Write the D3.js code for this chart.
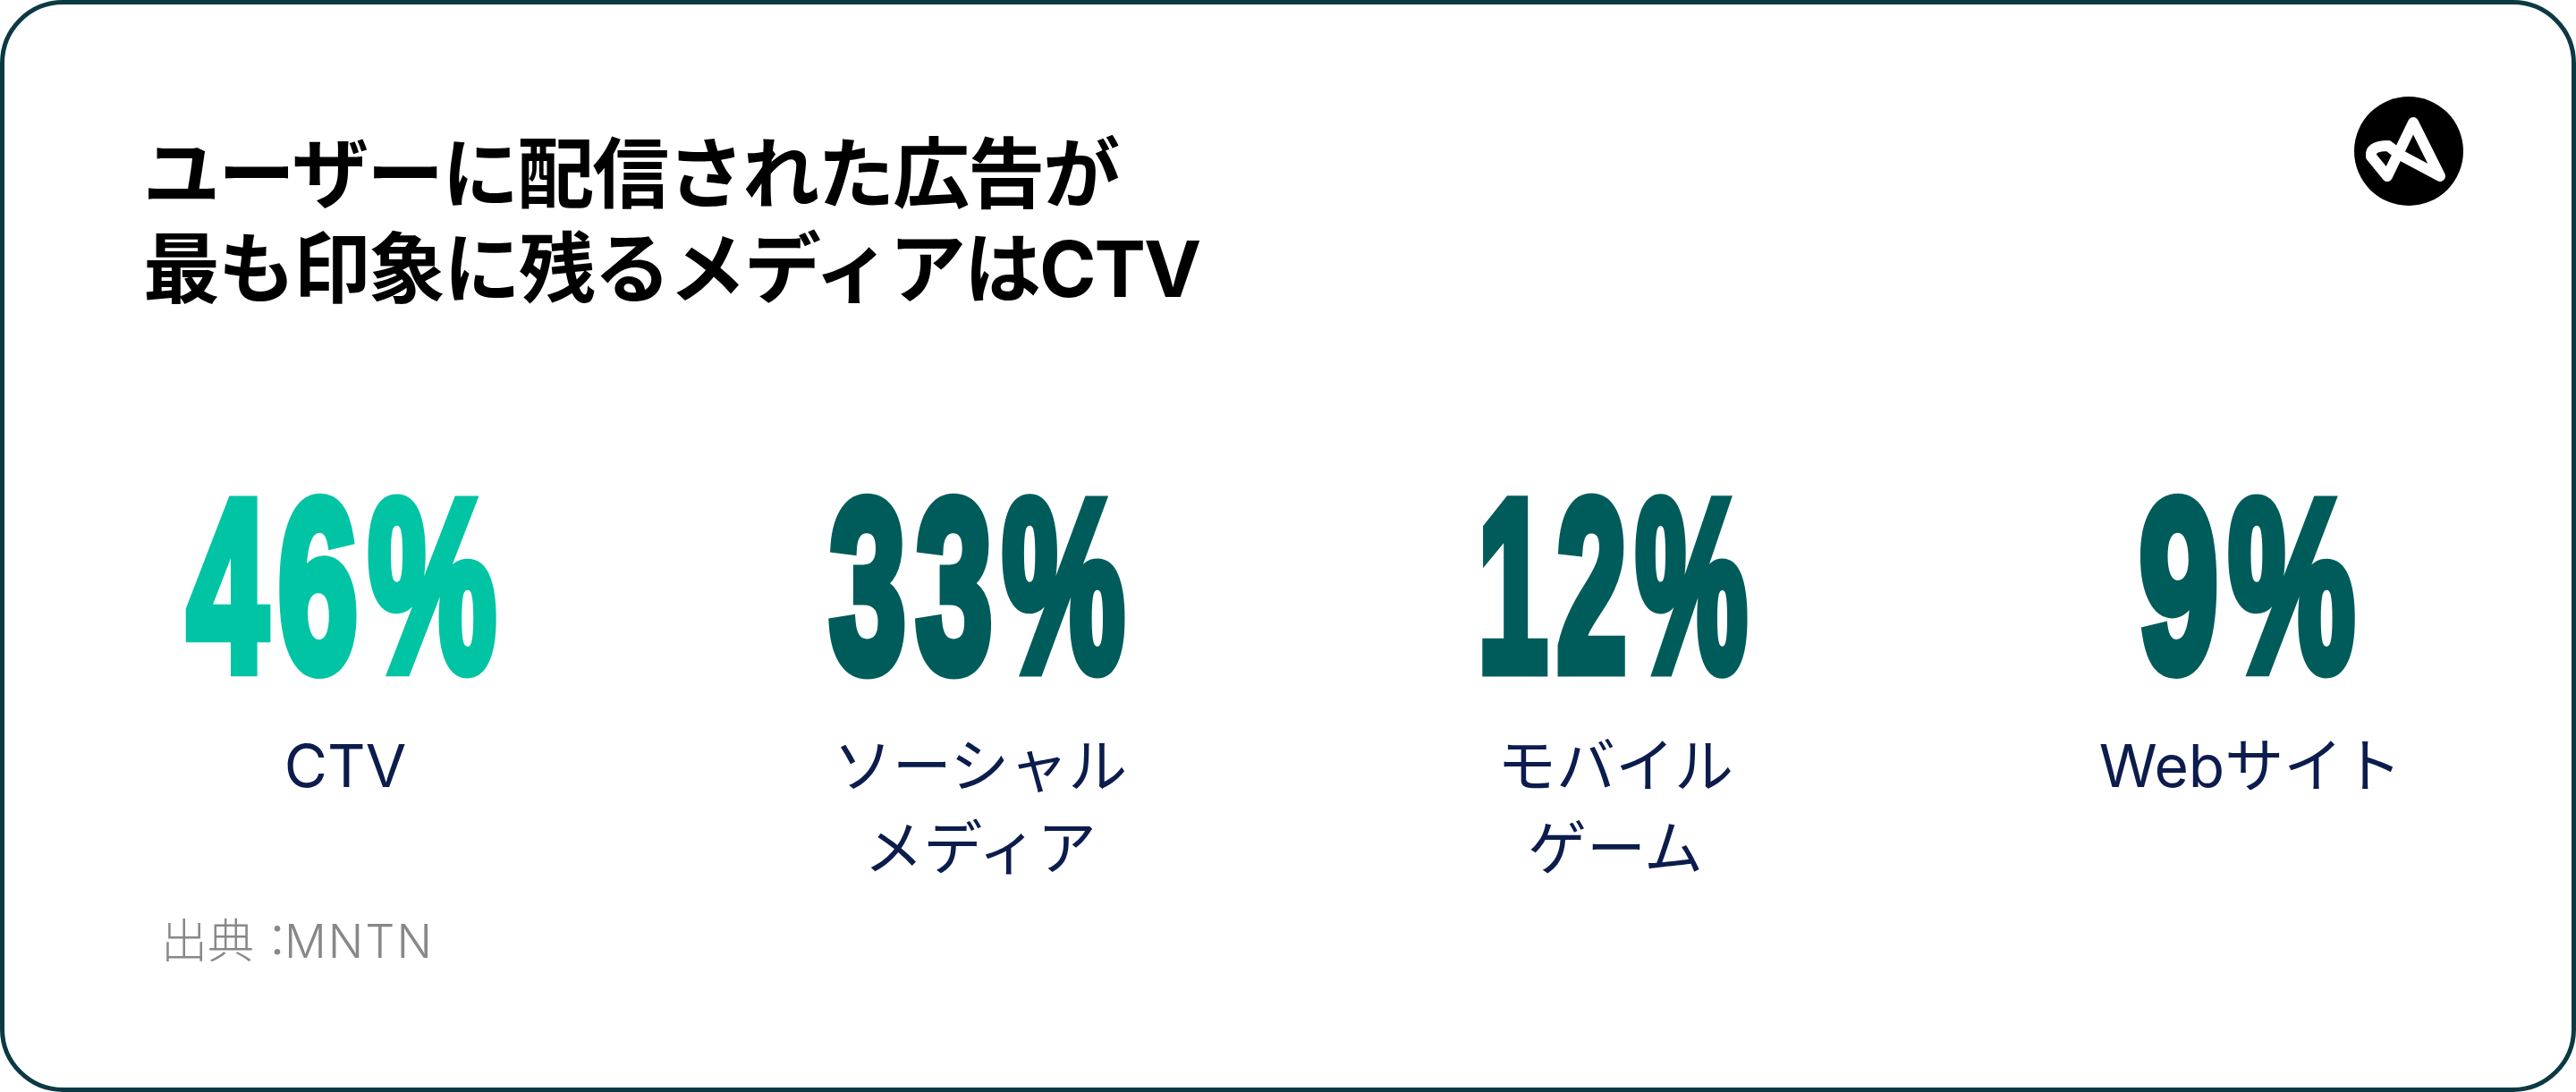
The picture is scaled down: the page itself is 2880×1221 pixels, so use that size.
<!DOCTYPE html>
<html lang="ja">
<head>
<meta charset="utf-8">
<style>
  html, body { margin: 0; padding: 0; background: #fff; }
  svg { display: block; }
  text { font-family: Inter, "Noto Sans CJK JP", sans-serif; }
</style>
<script src="https://cdn.jsdelivr.net/npm/d3@7"></script>
</head>
<body>
<svg id="chart"></svg>
<script>
var titleLines = ["ユーザーに配信された広告が", "最も印象に残るメディアはCTV"];
var categories = ["CTV", "ソーシャルメディア", "モバイルゲーム", "Webサイト"];
var categoryLines = [["CTV"], ["ソーシャル", "メディア"], ["モバイル", "ゲーム"], ["Webサイト"]];
var values = [46, 33, 12, 9];
var figureWidths = [345, 330, 301, 241];
var sourceWord = "出典";
var sourceColon = "：";
var sourceName = "MNTN";

var W = 2880, H = 1221;
var svg = d3.select("#chart").attr("width", W).attr("height", H);

// Card border
svg.append("rect")
  .attr("x", 2.5).attr("y", 2.5)
  .attr("width", W - 5).attr("height", H - 5)
  .attr("rx", 68)
  .attr("fill", "#fff").attr("stroke", "#0b3a44").attr("stroke-width", 5);

// Title
svg.selectAll(".title").data(titleLines).enter().append("text")
  .attr("class", "title")
  .attr("x", 160)
  .attr("y", function(d, i) { return 226 + i * 106; })
  .style("font-size", "86px")
  .style("letter-spacing", "-2px")
  .style("font-weight", 700)
  .attr("fill", "#000")
  .text(function(d) { return d; });

// Logo
var logo = svg.append("g").attr("transform", "translate(2693,169)");
logo.append("circle").attr("r", 61).attr("fill", "#000");
logo.append("path")
  .attr("d", "M-23,-6 L-10,4 L35,28 L5,-32 L-24,28 L-42,6 Q-44,-6 -23,-6 Z")
  .attr("fill", "none").attr("stroke", "#fff")
  .attr("stroke-width", 12).attr("stroke-linejoin", "round");

var x = d3.scalePoint().domain(categories).range([386, 2516]);
var color = d3.scaleOrdinal().domain(categories)
  .range(["#00c4a4", "#005c5b", "#005c5b", "#005c5b"]);

var figureGap = 20, figureStroke = 12;

categories.forEach(function(c, i) {
  // Big figures: no ultra condensed face is installed, so squeeze a narrow one
  var t = svg.append("text")
    .attr("text-anchor", "middle")
    .style("font-family", "'Liberation Sans Narrow', sans-serif")
    .style("font-size", "272px")
    .style("font-weight", 700)
    .style("letter-spacing", figureGap + "px")
    .attr("fill", color(c))
    .attr("stroke", color(c))
    .attr("stroke-width", figureStroke)
    .style("vector-effect", "non-scaling-stroke")
    .text(values[i] + "%");
  var natural = t.node().getComputedTextLength() - figureGap;
  var sx = figureWidths[i] / natural;
  t.attr("transform", "translate(" + (x(c) + 2) + ",749) scale(" + sx + ",1)");

  categoryLines[i].forEach(function(line, j) {
    svg.append("text")
      .attr("x", x(c))
      .attr("y", 880 + j * 92)
      .attr("text-anchor", "middle")
      .style("font-size", "66px")
      .style("font-weight", 400)
      .attr("fill", "#0b1c4d")
      .text(line);
  });
});

// Source: the colon sits in a narrower slot than its full width
var src = svg.append("text")
  .attr("x", 180).attr("y", 1071)
  .style("font-size", "52px")
  .style("font-weight", 300)
  .attr("fill", "#888");
src.append("tspan").text(sourceWord);
src.append("tspan").style("letter-spacing", "-18px").text(sourceColon);
src.append("tspan").style("letter-spacing", "2px").text(sourceName);
</script>
</body>
</html>
